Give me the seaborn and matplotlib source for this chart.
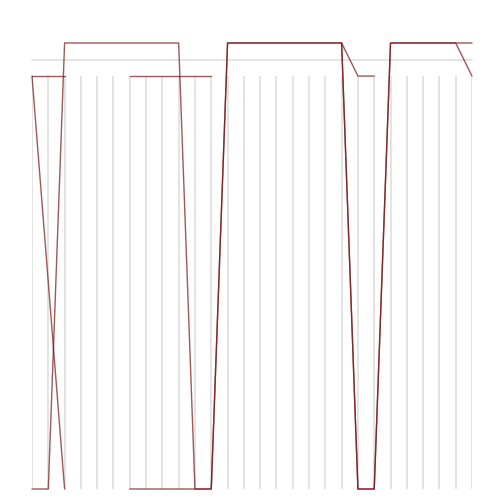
import numpy as np
import pandas as pd
import matplotlib
matplotlib.use("Agg")
import matplotlib.pyplot as plt
import seaborn as sns

nan = np.nan
steps = list(range(28))

# one list per traced line (NaN = no point at that step)
line_a = [0, 0] + [1.08] * 8 + [0, 0] + [1.08] * 8 + [0, 0] + [1.08] * 6
line_b = [nan] * 6 + [0] * 6 + [1.08] * 8 + [0, 0] + [1.08] * 5 + [1]
line_c = [1, 1, 1] + [nan] * 25
line_d = [1, nan, 0] + [nan] * 25
line_e = [nan] * 6 + [1] * 6 + [nan] * 16
line_f = [nan] * 19 + [1.08, 1, 1] + [nan] * 6

ref_level = 1.04
stem_low, stem_high = 0, 1

lines = {"a": line_a, "b": line_b, "c": line_c, "d": line_d, "e": line_e, "f": line_f}
df = pd.concat(
    [pd.DataFrame({"step": steps, "value": vals, "unit": name}) for name, vals in lines.items()]
).dropna()

sns.set_style("white")
fig = plt.figure(figsize=(5.04, 5.04), dpi=100)
ax = fig.add_axes([32 / 504, 15 / 504, 440 / 504, 446 / 504])

ax.vlines(steps, stem_low, stem_high, color="#dcdcdc", lw=1.1, zorder=1)
ax.axhline(ref_level, color="#dcdcdc", lw=1.1, zorder=1)

sns.lineplot(data=df, x="step", y="value", units="unit", estimator=None,
             color="#7a1010", alpha=0.7, lw=1.0, ax=ax, legend=False, zorder=3)
for ln in ax.get_lines():
    ln.set_clip_on(False)

ax.set_xlim(0, 27)
ax.set_ylim(0, 1.08)
ax.axis("off")

fig.savefig("out.png", dpi=100)
